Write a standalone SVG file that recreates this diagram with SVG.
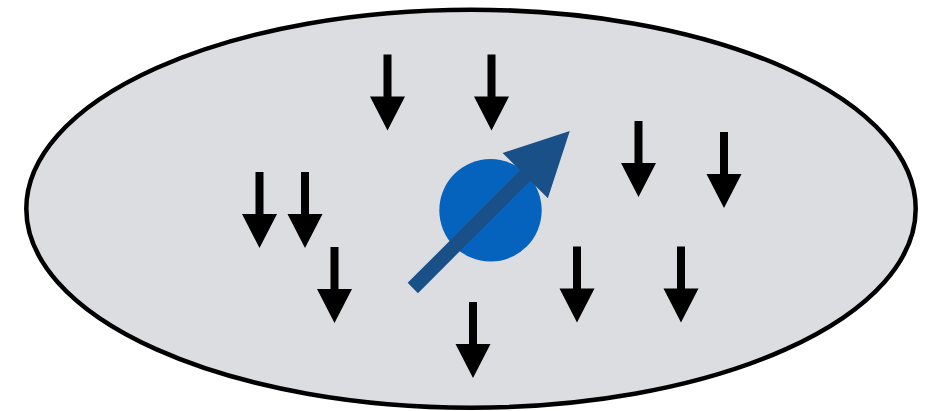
<svg xmlns="http://www.w3.org/2000/svg" xmlns:xlink="http://www.w3.org/1999/xlink" width="936" height="411" viewBox="0 0 936 411">
<style>
.field{fill:#dcdde0;stroke:#000;stroke-width:4.5}
.down{fill:#000}
.core{fill:#0563be}
.spin{fill:#1a5088}
</style>
<defs>
<path id="dn" class="down" d="M-4,0 H4 V42 H17.5 L0,76 L-17.5,42 H-4 Z"/>
</defs>
<g id="field"><ellipse class="field" cx="471" cy="208.7" rx="444.7" ry="199"/></g>
<g id="down-arrows">
<use xlink:href="#dn" transform="translate(387.5,54.5)"/>
<use xlink:href="#dn" transform="translate(491.5,54.5)"/>
<use xlink:href="#dn" transform="translate(638.5,121)"/>
<use xlink:href="#dn" transform="translate(724,132)"/>
<use xlink:href="#dn" transform="translate(259.5,172)"/>
<use xlink:href="#dn" transform="translate(305,172)"/>
<use xlink:href="#dn" transform="translate(334.5,247)"/>
<use xlink:href="#dn" transform="translate(577,246.5)"/>
<use xlink:href="#dn" transform="translate(681,246.5)"/>
<use xlink:href="#dn" transform="translate(473,302)"/>
</g>
<g id="particle">
<circle class="core" cx="490.5" cy="210.3" r="51.2"/>
<path class="spin" transform="translate(412.8,288) rotate(-45)" d="M0,-7.25 H159 V-32 L222,0 L159,32 V7.25 H0 Z"/>
</g>
</svg>
